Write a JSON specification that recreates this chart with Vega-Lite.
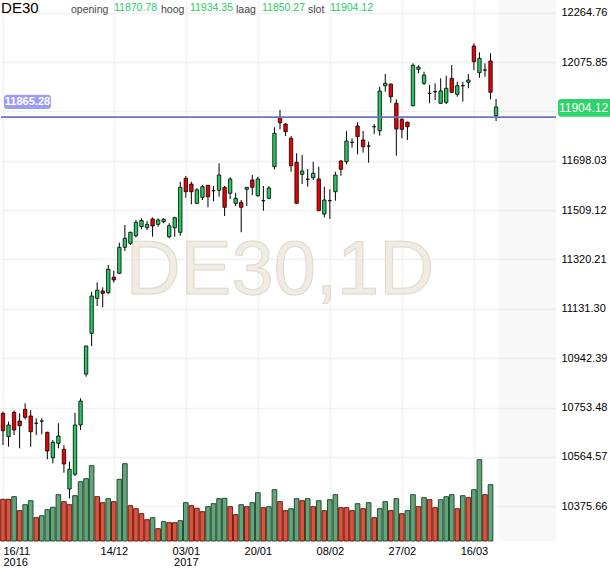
{
  "$schema": "https://vega.github.io/schema/vega-lite/v6.json",
  "width": 555,
  "height": 541,
  "padding": 0,
  "background": "white",
  "config": {
    "view": {"stroke": null},
    "font": "Liberation Sans, Arial, sans-serif"
  },
  "datasets": {
    "ohlc": [
      {"d": "2016-11-16", "o": 10731.3, "h": 10737.4, "l": 10609.9, "c": 10664.7, "v": 417},
      {"d": "2016-11-17", "o": 10641.7, "h": 10699.1, "l": 10603.4, "c": 10686.5, "v": 417},
      {"d": "2016-11-18", "o": 10735.1, "h": 10741.2, "l": 10648.2, "c": 10667.4, "v": 443},
      {"d": "2016-11-21", "o": 10701.8, "h": 10731.3, "l": 10597.3, "c": 10683.8, "v": 303},
      {"d": "2016-11-22", "o": 10746.6, "h": 10769.6, "l": 10708.3, "c": 10716.0, "v": 363},
      {"d": "2016-11-23", "o": 10721.0, "h": 10743.9, "l": 10603.4, "c": 10660.9, "v": 403},
      {"d": "2016-11-24", "o": 10693.0, "h": 10712.1, "l": 10648.2, "c": 10693.0, "v": 233},
      {"d": "2016-11-25", "o": 10701.8, "h": 10712.1, "l": 10650.9, "c": 10701.8, "v": 253},
      {"d": "2016-11-28", "o": 10658.6, "h": 10660.9, "l": 10555.2, "c": 10587.0, "v": 313},
      {"d": "2016-11-29", "o": 10561.3, "h": 10629.1, "l": 10539.9, "c": 10620.3, "v": 337},
      {"d": "2016-11-30", "o": 10616.4, "h": 10693.0, "l": 10597.3, "c": 10644.4, "v": 463},
      {"d": "2016-12-01", "o": 10593.5, "h": 10609.9, "l": 10503.9, "c": 10537.2, "v": 393},
      {"d": "2016-12-02", "o": 10441.5, "h": 10546.0, "l": 10405.9, "c": 10516.9, "v": 363},
      {"d": "2016-12-05", "o": 10497.9, "h": 10733.6, "l": 10491.3, "c": 10686.5, "v": 453},
      {"d": "2016-12-06", "o": 10686.5, "h": 10788.7, "l": 10667.4, "c": 10778.4, "v": 593},
      {"d": "2016-12-07", "o": 10881.7, "h": 10990.0, "l": 10871.4, "c": 10988.9, "v": 623},
      {"d": "2016-12-08", "o": 11037.5, "h": 11196.8, "l": 10988.9, "c": 11180.3, "v": 753},
      {"d": "2016-12-09", "o": 11171.5, "h": 11232.8, "l": 11142.0, "c": 11202.1, "v": 443},
      {"d": "2016-12-12", "o": 11199.5, "h": 11213.6, "l": 11137.0, "c": 11190.7, "v": 383},
      {"d": "2016-12-13", "o": 11193.0, "h": 11299.0, "l": 11188.0, "c": 11282.5, "v": 423},
      {"d": "2016-12-14", "o": 11252.0, "h": 11277.3, "l": 11231.4, "c": 11241.6, "v": 393},
      {"d": "2016-12-15", "o": 11267.3, "h": 11384.3, "l": 11265.0, "c": 11366.7, "v": 617},
      {"d": "2016-12-16", "o": 11366.7, "h": 11452.1, "l": 11352.4, "c": 11401.2, "v": 773},
      {"d": "2016-12-19", "o": 11382.1, "h": 11426.5, "l": 11375.5, "c": 11424.2, "v": 353},
      {"d": "2016-12-20", "o": 11411.1, "h": 11471.2, "l": 11404.6, "c": 11462.4, "v": 323},
      {"d": "2016-12-21", "o": 11446.4, "h": 11477.7, "l": 11435.6, "c": 11469.3, "v": 273},
      {"d": "2016-12-22", "o": 11441.8, "h": 11467.4, "l": 11433.0, "c": 11454.8, "v": 213},
      {"d": "2016-12-23", "o": 11475.1, "h": 11480.8, "l": 11407.3, "c": 11448.3, "v": 233},
      {"d": "2016-12-27", "o": 11454.8, "h": 11477.7, "l": 11445.6, "c": 11471.2, "v": 123},
      {"d": "2016-12-28", "o": 11464.7, "h": 11477.7, "l": 11458.8, "c": 11473.9, "v": 193},
      {"d": "2016-12-29", "o": 11407.3, "h": 11458.8, "l": 11401.2, "c": 11449.4, "v": 183},
      {"d": "2016-12-30", "o": 11441.8, "h": 11483.8, "l": 11407.3, "c": 11480.0, "v": 183},
      {"d": "2017-01-02", "o": 11424.2, "h": 11617.8, "l": 11411.1, "c": 11596.4, "v": 203},
      {"d": "2017-01-03", "o": 11630.9, "h": 11639.7, "l": 11556.6, "c": 11579.6, "v": 383},
      {"d": "2017-01-04", "o": 11609.0, "h": 11617.8, "l": 11531.3, "c": 11579.6, "v": 353},
      {"d": "2017-01-05", "o": 11535.2, "h": 11593.4, "l": 11533.0, "c": 11586.9, "v": 327},
      {"d": "2017-01-06", "o": 11558.1, "h": 11605.2, "l": 11547.8, "c": 11598.7, "v": 293},
      {"d": "2017-01-09", "o": 11604.1, "h": 11605.2, "l": 11519.9, "c": 11560.4, "v": 343},
      {"d": "2017-01-10", "o": 11583.4, "h": 11601.4, "l": 11542.7, "c": 11583.4, "v": 373},
      {"d": "2017-01-11", "o": 11585.0, "h": 11688.3, "l": 11560.4, "c": 11643.5, "v": 423},
      {"d": "2017-01-12", "o": 11596.4, "h": 11601.4, "l": 11486.6, "c": 11519.9, "v": 427},
      {"d": "2017-01-13", "o": 11573.5, "h": 11634.7, "l": 11551.6, "c": 11628.2, "v": 343},
      {"d": "2017-01-16", "o": 11535.2, "h": 11575.8, "l": 11524.8, "c": 11554.3, "v": 263},
      {"d": "2017-01-17", "o": 11539.0, "h": 11547.8, "l": 11424.2, "c": 11519.9, "v": 363},
      {"d": "2017-01-18", "o": 11588.8, "h": 11597.0, "l": 11524.8, "c": 11596.4, "v": 343},
      {"d": "2017-01-19", "o": 11624.4, "h": 11643.5, "l": 11566.9, "c": 11596.4, "v": 383},
      {"d": "2017-01-20", "o": 11564.3, "h": 11637.0, "l": 11560.4, "c": 11628.2, "v": 483},
      {"d": "2017-01-23", "o": 11545.1, "h": 11601.4, "l": 11506.9, "c": 11545.1, "v": 333},
      {"d": "2017-01-24", "o": 11554.3, "h": 11601.4, "l": 11550.5, "c": 11593.4, "v": 343},
      {"d": "2017-01-25", "o": 11675.3, "h": 11826.1, "l": 11665.3, "c": 11803.1, "v": 513},
      {"d": "2017-01-26", "o": 11864.4, "h": 11892.3, "l": 11818.4, "c": 11843.7, "v": 393},
      {"d": "2017-01-27", "o": 11838.7, "h": 11841.4, "l": 11792.8, "c": 11809.3, "v": 303},
      {"d": "2017-01-30", "o": 11784.0, "h": 11792.8, "l": 11656.1, "c": 11679.1, "v": 323},
      {"d": "2017-01-31", "o": 11692.1, "h": 11726.6, "l": 11533.5, "c": 11535.2, "v": 423},
      {"d": "2017-02-01", "o": 11646.2, "h": 11720.0, "l": 11609.0, "c": 11658.8, "v": 403},
      {"d": "2017-02-02", "o": 11627.4, "h": 11666.5, "l": 11598.7, "c": 11627.4, "v": 423},
      {"d": "2017-02-03", "o": 11633.2, "h": 11694.4, "l": 11624.4, "c": 11650.0, "v": 343},
      {"d": "2017-02-06", "o": 11628.2, "h": 11675.3, "l": 11505.0, "c": 11506.9, "v": 403},
      {"d": "2017-02-07", "o": 11494.2, "h": 11598.7, "l": 11481.6, "c": 11547.8, "v": 303},
      {"d": "2017-02-08", "o": 11545.1, "h": 11588.8, "l": 11475.1, "c": 11545.1, "v": 413},
      {"d": "2017-02-09", "o": 11579.6, "h": 11656.1, "l": 11545.1, "c": 11643.5, "v": 463},
      {"d": "2017-02-10", "o": 11697.1, "h": 11700.9, "l": 11640.8, "c": 11665.3, "v": 333},
      {"d": "2017-02-13", "o": 11694.4, "h": 11811.9, "l": 11684.5, "c": 11773.7, "v": 333},
      {"d": "2017-02-14", "o": 11768.7, "h": 11784.0, "l": 11748.0, "c": 11768.7, "v": 303},
      {"d": "2017-02-15", "o": 11831.1, "h": 11845.2, "l": 11722.7, "c": 11790.1, "v": 373},
      {"d": "2017-02-16", "o": 11777.5, "h": 11811.9, "l": 11728.9, "c": 11751.8, "v": 323},
      {"d": "2017-02-17", "o": 11754.5, "h": 11771.0, "l": 11690.6, "c": 11754.5, "v": 383},
      {"d": "2017-02-20", "o": 11828.4, "h": 11838.7, "l": 11800.4, "c": 11828.4, "v": 233},
      {"d": "2017-02-21", "o": 11813.1, "h": 11981.5, "l": 11793.9, "c": 11965.1, "v": 323},
      {"d": "2017-02-22", "o": 11985.3, "h": 12030.1, "l": 11962.4, "c": 11994.5, "v": 393},
      {"d": "2017-02-23", "o": 11991.8, "h": 11993.0, "l": 11920.3, "c": 11943.2, "v": 303},
      {"d": "2017-02-24", "o": 11918.0, "h": 11933.3, "l": 11717.4, "c": 11819.6, "v": 423},
      {"d": "2017-02-27", "o": 11856.7, "h": 11860.5, "l": 11784.0, "c": 11818.4, "v": 273},
      {"d": "2017-02-28", "o": 11845.6, "h": 11847.5, "l": 11777.5, "c": 11828.4, "v": 303},
      {"d": "2017-03-01", "o": 11908.8, "h": 12071.1, "l": 11906.0, "c": 12063.4, "v": 463},
      {"d": "2017-03-02", "o": 12048.1, "h": 12063.4, "l": 12032.8, "c": 12056.9, "v": 343},
      {"d": "2017-03-03", "o": 11994.5, "h": 12038.9, "l": 11988.0, "c": 12026.3, "v": 433},
      {"d": "2017-03-06", "o": 11956.2, "h": 11988.0, "l": 11918.0, "c": 11956.2, "v": 413},
      {"d": "2017-03-07", "o": 11962.4, "h": 11994.5, "l": 11930.6, "c": 11962.4, "v": 333},
      {"d": "2017-03-08", "o": 11918.0, "h": 12013.7, "l": 11916.0, "c": 11965.1, "v": 413},
      {"d": "2017-03-09", "o": 11921.8, "h": 12023.6, "l": 11915.3, "c": 11975.4, "v": 443},
      {"d": "2017-03-10", "o": 12013.7, "h": 12064.6, "l": 11956.2, "c": 11960.1, "v": 463},
      {"d": "2017-03-13", "o": 11952.4, "h": 12000.7, "l": 11943.2, "c": 11985.3, "v": 323},
      {"d": "2017-03-14", "o": 11985.3, "h": 12000.7, "l": 11924.1, "c": 11985.3, "v": 453},
      {"d": "2017-03-15", "o": 11998.4, "h": 12030.1, "l": 11975.4, "c": 12007.2, "v": 433},
      {"d": "2017-03-16", "o": 12137.3, "h": 12147.6, "l": 12045.4, "c": 12077.2, "v": 513},
      {"d": "2017-03-17", "o": 12035.1, "h": 12113.2, "l": 12016.0, "c": 12090.2, "v": 813},
      {"d": "2017-03-20", "o": 12045.4, "h": 12071.1, "l": 12019.8, "c": 12045.4, "v": 463},
      {"d": "2017-03-21", "o": 12079.9, "h": 12109.4, "l": 11933.3, "c": 11960.1, "v": 563},
      {"d": "2017-03-22", "o": 11870.78, "h": 11934.35, "l": 11850.27, "c": 11904.12}
    ],
    "note": [{"k": "a"}]
  },
  "resolve": {"scale": {"y": "independent"}},
  "layer": [
    {
      "data": {"name": "note"},
      "mark": {"type": "rect", "fill": "#000", "fillOpacity": 0.028},
      "encoding": {
        "x": {"datum": 90.5, "type": "quantitative", "scale": {"domain": [0.64, 100.82], "nice": false, "zero": false, "padding": 0}},
        "x2": {"datum": 100.82}
      }
    },
    {
      "data": {"name": "ohlc"},
      "transform": [
        {"window": [{"op": "row_number", "as": "n"}, {"op": "lag", "field": "v", "as": "pv"}]},
        {"filter": "isValid(datum.v)"}
      ],
      "mark": {"type": "bar", "size": 4.6, "strokeWidth": 1},
      "encoding": {
        "x": {
          "field": "n",
          "type": "quantitative",
          "title": null,
          "scale": {"domain": [0.64, 100.82], "nice": false, "zero": false, "padding": 0},
          "axis": {
            "values": [1, 21, 34, 47, 60, 73, 86],
            "labelExpr": "datum.value == 1 ? ['16/11', '2016'] : datum.value == 21 ? '14/12' : datum.value == 34 ? ['03/01', '2017'] : datum.value == 47 ? '20/01' : datum.value == 60 ? '08/02' : datum.value == 73 ? '27/02' : '16/03'",
            "grid": true,
            "gridColor": "#f1f1f1",
            "gridWidth": 1.5,
            "domain": false,
            "ticks": false,
            "tickSize": 0,
            "labelPadding": 4,
            "labelFlush": 5,
            "labelFontSize": 11,
            "labelColor": "#000",
            "labelLineHeight": 11,
            "labelOverlap": false
          }
        },
        "y": {"field": "v", "type": "quantitative", "title": null, "scale": {"domain": [0, 5410], "nice": false}, "axis": null},
        "fill": {"condition": {"test": "datum.pv != null && datum.v > datum.pv", "value": "#66a37c"}, "value": "#d9533e"},
        "stroke": {"condition": {"test": "datum.pv != null && datum.v > datum.pv", "value": "#1f4f2f"}, "value": "#6e1a10"}
      }
    },
    {
      "layer": [
        {
          "data": {"name": "note"},
          "mark": {"type": "text", "text": "DE30,1D", "fontSize": 76, "fill": "#f0ece4", "stroke": "#e0d9ca", "strokeWidth": 1, "align": "center", "baseline": "alphabetic"},
          "encoding": {
            "x": {"datum": 51.0, "type": "quantitative"},
            "y": {"datum": 11188, "type": "quantitative"}
          }
        },
        {
          "data": {"name": "ohlc"},
          "transform": [{"window": [{"op": "row_number", "as": "n"}]}],
          "mark": {"type": "rule", "color": "#000", "strokeWidth": 1},
          "encoding": {
            "x": {"field": "n", "type": "quantitative", "title": null},
            "y": {
              "field": "l",
              "type": "quantitative",
              "title": null,
              "scale": {"domain": [10242.5, 12313.4], "nice": false, "zero": false},
              "axis": {
                "orient": "right",
                "values": [10375.66, 10564.57, 10753.48, 10942.39, 11131.30, 11320.21, 11509.12, 11698.03, 11886.94, 12075.85, 12264.76],
                "format": ".2f",
                "labelExpr": "datum.value == 11886.94 ? '' : datum.label",
                "grid": true,
                "gridColor": "#f1f1f1",
                "gridWidth": 1.5,
                "domain": false,
                "ticks": false,
                "tickSize": 0,
                "labelPadding": 5,
                "labelFontSize": 11,
                "labelColor": "#000",
                "labelOverlap": false
              }
            },
            "y2": {"field": "h"}
          }
        },
        {
          "data": {"name": "ohlc"},
          "transform": [{"window": [{"op": "row_number", "as": "n"}]}],
          "mark": {"type": "bar", "size": 3.4, "stroke": "#000", "strokeWidth": 0.8},
          "encoding": {
            "x": {"field": "n", "type": "quantitative", "title": null},
            "y": {"field": "o", "type": "quantitative", "title": null},
            "y2": {"field": "c"},
            "fill": {"condition": {"test": "datum.c >= datum.o", "value": "#27c95e"}, "value": "#ee0000"}
          }
        },
        {
          "data": {"name": "note"},
          "mark": {"type": "rule", "color": "#6e72c2", "strokeWidth": 1.8},
          "encoding": {
            "x": {"datum": 0.64, "type": "quantitative"},
            "x2": {"datum": 100.82},
            "y": {"datum": 11865.28, "type": "quantitative"}
          }
        },
        {
          "data": {"name": "note"},
          "mark": {"type": "rect", "fill": "#9e9bf5", "cornerRadius": 3},
          "encoding": {
            "x": {"datum": 1.18, "type": "quantitative"},
            "x2": {"datum": 9.66},
            "y": {"datum": 11950.5, "type": "quantitative"},
            "y2": {"datum": 11896.0}
          }
        },
        {
          "data": {"name": "note"},
          "mark": {"type": "text", "text": "11865.28", "fontSize": 11, "fontWeight": "bold", "fill": "#ffffff", "align": "center", "baseline": "middle"},
          "encoding": {
            "x": {"datum": 5.42, "type": "quantitative"},
            "y": {"datum": 11923.5, "type": "quantitative"}
          }
        },
        {
          "data": {"name": "note"},
          "mark": {"type": "rect", "fill": "#2fd36b", "cornerRadius": 3},
          "encoding": {
            "x": {"datum": 101.18, "type": "quantitative"},
            "x2": {"datum": 111.2},
            "y": {"datum": 11934.4, "type": "quantitative"},
            "y2": {"datum": 11866.7}
          }
        },
        {
          "data": {"name": "note"},
          "mark": {"type": "text", "text": "11904.12", "fontSize": 12, "fill": "#ffffff", "align": "left", "baseline": "middle"},
          "encoding": {
            "x": {"datum": 101.36, "type": "quantitative"},
            "y": {"datum": 11900.4, "type": "quantitative"}
          }
        },
        {
          "data": {"name": "note"},
          "mark": {"type": "text", "text": "DE30", "fontSize": 15, "fill": "#000", "align": "left", "baseline": "alphabetic"},
          "encoding": {
            "x": {"datum": 0.66, "type": "quantitative"},
            "y": {"datum": 12262.5, "type": "quantitative"}
          }
        },
        {
          "data": {"name": "note"},
          "mark": {"type": "text", "text": "opening", "fontSize": 10.5, "fill": "#444", "align": "left", "baseline": "alphabetic"},
          "encoding": {
            "x": {"datum": 13.27, "type": "quantitative"},
            "y": {"datum": 12265.5, "type": "quantitative"}
          }
        },
        {
          "data": {"name": "note"},
          "mark": {"type": "text", "text": "11870.78", "fontSize": 10.5, "fill": "#29cc63", "align": "left", "baseline": "alphabetic"},
          "encoding": {
            "x": {"datum": 21.04, "type": "quantitative"},
            "y": {"datum": 12272.4, "type": "quantitative"}
          }
        },
        {
          "data": {"name": "note"},
          "mark": {"type": "text", "text": "hoog", "fontSize": 10.5, "fill": "#444", "align": "left", "baseline": "alphabetic"},
          "encoding": {
            "x": {"datum": 29.52, "type": "quantitative"},
            "y": {"datum": 12265.5, "type": "quantitative"}
          }
        },
        {
          "data": {"name": "note"},
          "mark": {"type": "text", "text": "11934.35", "fontSize": 10.5, "fill": "#29cc63", "align": "left", "baseline": "alphabetic"},
          "encoding": {
            "x": {"datum": 34.75, "type": "quantitative"},
            "y": {"datum": 12272.4, "type": "quantitative"}
          }
        },
        {
          "data": {"name": "note"},
          "mark": {"type": "text", "text": "laag", "fontSize": 10.5, "fill": "#444", "align": "left", "baseline": "alphabetic"},
          "encoding": {
            "x": {"datum": 43.06, "type": "quantitative"},
            "y": {"datum": 12265.5, "type": "quantitative"}
          }
        },
        {
          "data": {"name": "note"},
          "mark": {"type": "text", "text": "11850.27", "fontSize": 10.5, "fill": "#29cc63", "align": "left", "baseline": "alphabetic"},
          "encoding": {
            "x": {"datum": 47.75, "type": "quantitative"},
            "y": {"datum": 12272.4, "type": "quantitative"}
          }
        },
        {
          "data": {"name": "note"},
          "mark": {"type": "text", "text": "slot", "fontSize": 10.5, "fill": "#444", "align": "left", "baseline": "alphabetic"},
          "encoding": {
            "x": {"datum": 56.05, "type": "quantitative"},
            "y": {"datum": 12265.5, "type": "quantitative"}
          }
        },
        {
          "data": {"name": "note"},
          "mark": {"type": "text", "text": "11904.12", "fontSize": 10.5, "fill": "#29cc63", "align": "left", "baseline": "alphabetic"},
          "encoding": {
            "x": {"datum": 60.03, "type": "quantitative"},
            "y": {"datum": 12272.4, "type": "quantitative"}
          }
        }
      ]
    }
  ]
}
